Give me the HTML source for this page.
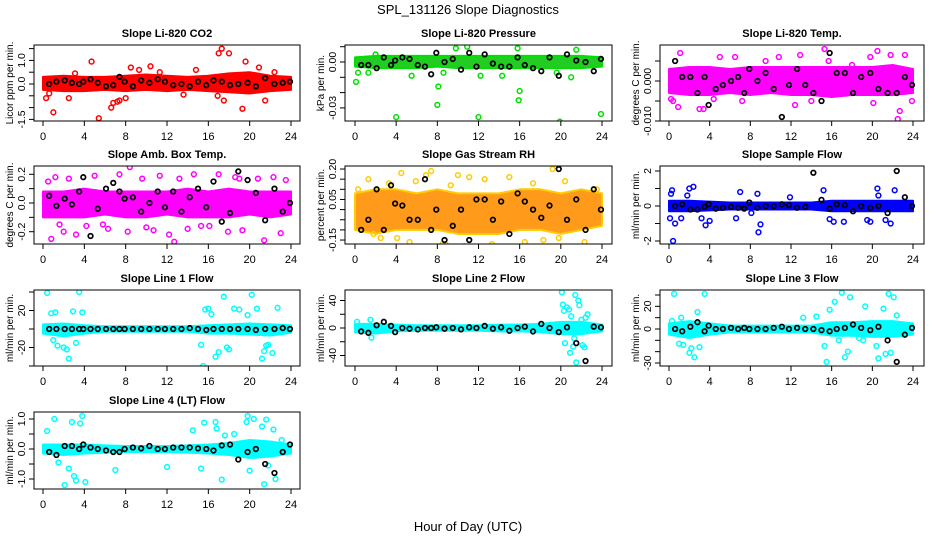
<!DOCTYPE html>
<html><head><meta charset="utf-8"><style>
body{margin:0;background:#fff;}
svg{display:block;font-family:"Liberation Sans",sans-serif;}
</style></head><body>
<svg id="fig" width="936" height="540" viewBox="0 0 936 540">
<text x="468" y="14" text-anchor="middle" font-size="13">SPL_131126  Slope Diagnostics</text>
<text x="468" y="531" text-anchor="middle" font-size="13">Hour of Day (UTC)</text>
</svg>
<script>
const xTicks=[0,4,8,12,16,20,24];
const bandHours=[0,2,4,6,8,10,12,14,16,18,20,22,24];
const blackX=[0.6,1.3,2.1,2.8,3.5,3.9,4.6,5.3,6.1,6.8,7.4,7.9,8.7,9.5,10.3,11.1,11.8,12.6,13.4,14.2,15.0,15.8,16.5,17.3,18.1,18.9,19.8,20.6,21.5,22.4,23.2,23.9];

const co2Black=[0.0,0.1,0.15,0.05,0.0,0.1,0.2,0.05,-0.1,-0.05,0.3,0.1,-0.1,0.15,0.05,0.2,0.1,-0.05,0.0,-0.1,0.1,-0.05,0.15,0.1,-0.05,0.0,0.05,-0.1,0.25,0.0,0.05,0.1];
const co2Hi=[0.3,0.35,0.3,0.3,0.35,0.4,0.35,0.3,0.35,0.45,0.5,0.35,0.3];
const co2Lo=[-0.25,-0.3,-0.3,-0.25,-0.3,-0.25,-0.3,-0.25,-0.3,-0.35,-0.4,-0.3,-0.25];
const co2OutX=[0.3,1.0,4.7,5.4,6.6,6.8,7.2,7.4,8.0,9.3,10.4,14.8,17.0,17.3,17.5,18.0,19.3,19.6,20.9,21.5,0.6,2.5,16.9,8.5,11.3,3.1,13.6,22.4];
const co2OutY=[-0.6,-1.2,0.95,-1.45,-1.0,-0.8,-0.75,-0.7,-0.6,0.6,0.75,0.6,1.3,1.5,-0.7,1.3,-1.05,0.95,0.7,-0.7,-0.4,-0.6,-0.5,0.7,0.5,0.45,-0.45,0.5];

const presBlack=[-0.002,-0.002,-0.004,0.003,-0.002,0.001,0.003,0.002,-0.002,-0.003,-0.008,0.006,0.0,0.002,-0.005,0.006,-0.003,0.005,-0.001,-0.003,-0.003,0.003,-0.002,-0.004,-0.006,0.003,-0.009,0.005,0.001,0.0,-0.006,0.002];
const presHi=[0.003,0.004,0.004,0.004,0.004,0.004,0.004,0.004,0.004,0.004,0.004,0.004,0.003];
const presLo=[-0.003,-0.004,-0.004,-0.004,-0.003,-0.004,-0.004,-0.004,-0.004,-0.004,-0.004,-0.004,-0.003];
const presOutX=[0.1,4.0,8.0,8.1,12.0,16.0,15.9,19.9,23.9,10.9,9.8,15.8,0.3,1.3,5.5,8.6,12.2,14.3,19.6,21.0,2.0,21.5];
const presOutY=[-0.013,-0.036,-0.028,-0.016,-0.036,-0.019,-0.025,-0.039,-0.034,0.010,0.009,0.009,-0.007,-0.007,-0.009,-0.007,-0.009,-0.009,-0.007,-0.010,0.005,0.008];

const tempBlack=[0.005,0.001,0.001,-0.003,0.001,-0.006,-0.002,-0.001,0.0,0.001,-0.003,0.003,0.0,0.002,-0.002,-0.009,-0.001,0.003,-0.001,-0.003,-0.005,0.007,0.002,0.002,-0.003,0.001,0.002,-0.002,-0.003,-0.003,0.001,-0.001];
const tempHi=[0.003,0.0035,0.0035,0.003,0.0035,0.0035,0.0035,0.0035,0.0035,0.0035,0.0035,0.004,0.003];
const tempLo=[-0.003,-0.0035,-0.0035,-0.003,-0.0035,-0.003,-0.0035,-0.0035,-0.004,-0.0035,-0.0035,-0.0035,-0.003];
const tempOutX=[0.2,0.4,1.1,0.9,3.0,3.4,5.0,6.5,7.2,9.5,10.8,12.9,12.4,15.3,15.7,20.5,20.1,21.8,22.5,22.7,23.2,23.9,19.8,18.0,4.4,14.0];
const tempOutY=[-0.0045,-0.005,0.007,-0.0065,-0.007,-0.007,0.006,0.006,-0.005,0.005,0.006,0.0065,-0.006,0.008,0.005,0.0075,-0.0055,0.0065,-0.0095,-0.0075,0.0065,-0.005,0.006,0.004,-0.0045,-0.005];

const ambBlack=[0.05,-0.02,0.03,-0.01,0.08,0.18,-0.23,-0.04,0.1,0.14,0.08,0.03,0.04,-0.06,0.0,0.08,-0.03,0.08,-0.06,0.04,0.1,-0.03,0.15,-0.13,-0.07,0.22,0.16,0.07,-0.12,0.1,-0.06,0.0];
const ambHi=[0.08,0.08,0.1,0.08,0.08,0.08,0.08,0.1,0.08,0.1,0.08,0.08,0.08];
const ambLo=[-0.1,-0.1,-0.1,-0.08,-0.1,-0.1,-0.08,-0.1,-0.1,-0.1,-0.08,-0.1,-0.08];
const ambOutX=[0.5,0.8,1.2,2.0,2.5,3.2,4.2,5.0,6.3,7.4,8.2,8.4,9.6,10.7,11.3,12.2,12.7,13.2,14.0,14.6,16.1,17.0,17.9,18.6,19.3,20.8,21.4,22.3,23.0,23.5,1.6,5.8,10.0,15.3,19.0];
const ambOutY=[0.15,-0.25,0.18,-0.2,0.17,-0.22,-0.16,0.19,-0.18,0.2,-0.2,0.25,0.17,-0.19,0.19,-0.22,-0.27,0.17,-0.18,0.2,-0.16,0.2,-0.2,0.18,-0.19,0.17,-0.26,0.18,-0.21,0.16,-0.15,-0.15,-0.17,-0.16,0.17];

const rhBlack=[-0.1,-0.05,0.1,-0.1,0.12,0.03,0.02,-0.05,-0.05,0.15,-0.1,0.0,-0.15,-0.08,0.0,-0.15,0.05,0.05,-0.05,0.04,-0.12,0.08,0.04,0.0,-0.04,0.02,0.2,-0.05,0.05,-0.1,0.1,0.0];
const rhHi=[0.08,0.1,0.1,0.08,0.1,0.08,0.08,0.08,0.1,0.1,0.08,0.1,0.08];
const rhLo=[-0.1,-0.12,-0.1,-0.1,-0.1,-0.12,-0.12,-0.12,-0.1,-0.1,-0.12,-0.1,-0.08];
const rhOutX=[0.3,1.3,2.5,3.3,4.5,5.3,5.9,6.9,7.4,8.5,9.3,10.0,10.6,11.1,13.3,14.0,15.0,16.5,17.3,18.3,19.2,20.4,21.6,22.3,23.5,1.8,8.8,12.6,19.8,4.1];
const rhOutY=[0.1,0.15,-0.14,0.13,0.18,-0.16,0.14,0.17,0.19,-0.17,0.12,0.17,-0.18,0.16,-0.17,-0.19,0.16,-0.16,0.13,-0.15,0.2,0.14,-0.19,-0.16,0.1,-0.12,-0.17,0.15,-0.14,-0.14];

const sfBlack=[0.0,0.1,-0.2,-0.2,-0.05,0.1,-0.15,-0.1,-0.05,-0.1,-0.15,0.2,-0.1,0.0,0.0,0.1,0.05,-0.1,-0.05,1.9,0.35,-0.15,0.1,0.05,-0.3,0.0,-0.1,0.0,-0.4,2.0,0.5,0.0];
const sfHi=[0.3,0.3,0.25,0.2,0.2,0.2,0.2,0.2,0.3,0.3,0.3,0.3,0.3];
const sfLo=[-0.3,-0.3,-0.25,-0.2,-0.2,-0.2,-0.2,-0.2,-0.3,-0.3,-0.3,-0.3,-0.3];
const sfOutX=[0.1,0.2,0.3,0.4,0.6,1.2,2.0,2.4,3.2,3.6,4.0,6.6,7.0,8.1,8.7,8.8,9.0,11.9,15.2,15.8,16.2,17.2,19.5,19.8,20.5,20.6,21.3,21.8,22.2,1.8];
const sfOutY=[-0.7,0.7,0.9,-2.0,-1.0,-0.7,1.0,1.1,-0.7,-1.1,-0.85,-0.7,0.8,-0.4,0.7,-1.5,-1.05,0.5,0.9,-0.75,-0.9,-0.9,-0.8,-0.9,1.0,0.6,-0.8,-1.0,0.9,0.6];

const l1Black=[0,0,0,0,0,0,0,0,0,0,0,0,0,0,0,0,0,0,0,1,0,-1,0,0,0,0,0,-1,0,0,1,0];
const l1Hi=[5,6,4,3,3,3,3,3,4,5,6,5,4];
const l1Lo=[-5,-8,-5,-3,-3,-3,-3,-3,-5,-5,-6,-7,-4];
const l1OutX=[0.4,0.8,1.0,1.2,1.4,2.0,2.3,2.5,2.9,3.2,3.5,3.8,15.3,15.5,15.7,16.0,16.7,17.0,17.5,17.8,18.5,19.0,19.8,20.2,20.7,21.2,21.4,21.8,22.2,22.7,16.3,18.0,21.6];
const l1OutY=[39,17,-12,18,-18,-20,-22,-32,19,-15,40,18,-17,-40,21,22,-30,-25,35,-20,22,21,15,37,22,-32,-24,-17,-26,23,16,-22,-18];

const l2Black=[-5,-7,4,9,3,-6,0,-1,-2,0,0,1,-1,0,-2,1,0,3,-1,1,-4,0,2,-5,6,0,-6,1,-22,-48,2,1];
const l2Hi=[6,6,5,4,4,4,4,5,5,6,9,9,5];
const l2Lo=[-6,-8,-5,-4,-4,-4,-4,-5,-5,-6,-9,-9,-5];
const l2OutX=[0.2,1.5,1.6,20.1,20.2,20.4,20.6,20.8,20.9,21.0,21.2,21.4,21.5,21.7,21.8,22.1,22.3,22.4,22.6,20.3,21.3,22.0];
const l2OutY=[9,12,-14,52,34,-22,30,27,-36,17,-27,48,-50,40,33,-25,-28,15,20,25,-15,12];

const l3Black=[0,-2,2,6,-2,3,0,0,1,0,1,0,0,0,1,2,0,1,0,0,-1,-2,0,1,4,1,-1,2,-10,-29,-5,1];
const l3Hi=[5,7,5,3,3,3,3,3,6,6,7,7,5];
const l3Lo=[-5,-8,-5,-3,-3,-3,-3,-3,-6,-6,-7,-7,-5];
const l3OutX=[0.3,0.5,1.0,1.2,1.4,2.0,2.2,2.5,2.8,3.0,3.5,13.2,14.5,15.3,15.5,15.8,16.3,16.7,17.0,17.3,17.6,17.8,18.7,19.1,19.3,20.4,20.6,21.1,21.3,21.6,21.8,22.1,22.4];
const l3OutY=[7,31,-13,10,-14,-21,-17,-25,15,-16,31,10,11,-15,-29,17,24,-10,32,-25,-20,28,-8,-10,20,-15,-26,18,-22,31,-21,28,12];

const l4Black=[-0.1,-0.2,0.1,0.1,0.0,0.15,0.05,0.0,-0.05,-0.1,-0.1,0.0,0.05,0.02,0.1,0.0,0.0,0.05,0.05,0.05,0.02,0.0,-0.05,0.12,0.15,-0.35,-0.1,0.0,-0.5,-0.8,-0.1,0.15];
const l4Hi=[0.15,0.15,0.15,0.12,0.1,0.1,0.1,0.12,0.15,0.2,0.3,0.25,0.15];
const l4Lo=[-0.15,-0.2,-0.15,-0.12,-0.1,-0.1,-0.1,-0.12,-0.15,-0.2,-0.3,-0.25,-0.15];
const l4OutX=[0.4,1.1,1.5,2.1,2.5,2.8,3.0,3.2,3.6,3.8,4.1,7.0,12.0,14.5,15.3,15.6,16.7,16.8,17.3,17.6,18.5,19.7,19.8,20.0,20.4,21.2,21.4,21.6,21.8,22.3,22.5,23.1];
const l4OutY=[0.6,1.0,-0.45,-1.2,-0.65,0.9,-0.9,-1.05,0.85,1.1,-1.1,-0.7,-0.6,0.62,-0.65,0.88,0.9,0.68,-1.02,0.45,0.5,0.9,1.1,-0.72,1.0,0.75,-1.17,0.98,-0.55,0.65,-1.0,0.3];

const panels=[
 {name:'co2',title:'Slope Li-820 CO2',ylab:'Licor ppm per min.',col:0,row:0,y0:84,ys:23.6,ticks:[-1.5,-1,-0.5,0,0.5,1,1.5],labs:[[-1.5,'-1.5'],[0,'0.0'],[1,'1.0']],color:'#ff0000',fill:'#ff0000',black:co2Black,hi:co2Hi,lo:co2Lo,ox:co2OutX,oy:co2OutY},
 {name:'pressure',title:'Slope Li-820 Pressure',ylab:'kPa per min.',col:1,row:0,y0:62,ys:1530,ticks:[-0.03,-0.02,-0.01,0,0.01],labs:[[-0.03,'-0.03'],[0,'0.00']],color:'#00e000',fill:'#22cc22',black:presBlack,hi:presHi,lo:presLo,ox:presOutX,oy:presOutY},
 {name:'temp',title:'Slope Li-820 Temp.',ylab:'degrees C per min.',col:2,row:0,y0:81,ys:4000,ticks:[-0.01,-0.005,0,0.005],labs:[[-0.01,'-0.010'],[0,'0.000']],color:'#ff00ff',fill:'#ff00ff',black:tempBlack,hi:tempHi,lo:tempLo,ox:tempOutX,oy:tempOutY},
 {name:'amb-box-temp',title:'Slope Amb. Box Temp.',ylab:'degrees C per min.',col:0,row:1,y0:203,ys:143.5,ticks:[-0.2,-0.1,0,0.1,0.2],labs:[[-0.2,'-0.2'],[0,'0.0'],[0.2,'0.2']],color:'#ff00ff',fill:'#ff00ff',black:ambBlack,hi:ambHi,lo:ambLo,ox:ambOutX,oy:ambOutY},
 {name:'gas-stream-rh',title:'Slope Gas Stream RH',ylab:'percent per min.',col:1,row:1,y0:209.6,ys:202.9,ticks:[-0.15,-0.1,-0.05,0,0.05,0.1,0.15,0.2],labs:[[-0.15,'-0.15'],[0.05,'0.05'],[0.2,'0.20']],color:'#ffcc00',fill:'#ff9a1a',black:rhBlack,hi:rhHi,lo:rhLo,ox:rhOutX,oy:rhOutY},
 {name:'sample-flow',title:'Slope Sample Flow',ylab:'ml/min per min.',col:2,row:1,y0:206,ys:17.5,ticks:[-2,-1,0,1,2],labs:[[-2,'-2'],[0,'0'],[2,'2']],color:'#0000ff',fill:'#0000ff',black:sfBlack,hi:sfHi,lo:sfLo,ox:sfOutX,oy:sfOutY},
 {name:'line1-flow',title:'Slope Line 1 Flow',ylab:'ml/min per min.',col:0,row:2,y0:329,ys:0.925,ticks:[-40,-20,0,20,40],labs:[[-20,'-20'],[20,'20']],color:'#00ffff',fill:'#00ffff',black:l1Black,hi:l1Hi,lo:l1Lo,ox:l1OutX,oy:l1OutY},
 {name:'line2-flow',title:'Slope Line 2 Flow',ylab:'ml/min per min.',col:1,row:2,y0:328,ys:0.6875,ticks:[-40,-20,0,20,40],labs:[[-40,'-40'],[0,'0'],[40,'40']],color:'#00ffff',fill:'#00ffff',black:l2Black,hi:l2Hi,lo:l2Lo,ox:l2OutX,oy:l2OutY},
 {name:'line3-flow',title:'Slope Line 3 Flow',ylab:'ml/min per min.',col:2,row:2,y0:329,ys:1.133,ticks:[-30,-20,-10,0,10,20,30],labs:[[-30,'-30'],[0,'0'],[20,'20']],color:'#00ffff',fill:'#00ffff',black:l3Black,hi:l3Hi,lo:l3Lo,ox:l3OutX,oy:l3OutY},
 {name:'line4-lt-flow',title:'Slope Line 4 (LT) Flow',ylab:'ml/min per min.',col:0,row:3,y0:449,ys:30,ticks:[-1,-0.5,0,0.5,1],labs:[[-1,'-1.0'],[0,'0.0'],[1,'1.0']],color:'#00ffff',fill:'#00ffff',black:l4Black,hi:l4Hi,lo:l4Lo,ox:l4OutX,oy:l4OutY}
];
const cols=[{L:34,R:300,x0:43,x24:291},{L:345,R:612,x0:355,x24:602},{L:660,R:924,x0:669,x24:913}];
const rows=[{T:45,B:121},{T:166,B:244},{T:290,B:366},{T:412,B:489}];
const NS='http://www.w3.org/2000/svg';
const svg=document.getElementById('fig');
function mk(tag,attrs,parent){const e=document.createElementNS(NS,tag);for(const k in attrs)e.setAttribute(k,attrs[k]);parent.appendChild(e);return e;}

panels.forEach(p=>{
 const c=cols[p.col],r=rows[p.row];
 const X=v=>c.x0+(c.x24-c.x0)*v/24;
 const Y=v=>p.y0-v*p.ys;
 const g=mk('g',{},svg);
 
 
 const clip='clip-'+p.name;
 const cp=mk('clipPath',{id:clip},g);
 mk('rect',{x:c.L,y:r.T,width:c.R-c.L,height:r.B-r.T},cp);
 const pg=mk('g',{'clip-path':'url(#'+clip+')'},g);
 let d='';
 bandHours.forEach((h,i)=>{d+=(i?'L':'M')+X(h)+','+Y(p.hi[i]);});
 for(let i=bandHours.length-1;i>=0;i--)d+='L'+X(bandHours[i])+','+Y(p.lo[i]);
 const band=mk('path',{d:d+'Z',fill:p.fill,stroke:p.color,'stroke-width':2,'stroke-linejoin':'round'},pg);
 
 
 p.ox.forEach((x,i)=>{
  const pt=mk('circle',{cx:X(x),cy:Y(p.oy[i]),r:2.4,fill:'none',stroke:p.color,'stroke-width':1.5},pg);
  
  
 });
 blackX.forEach((x,i)=>{
  const pt=mk('circle',{cx:X(x),cy:Y(p.black[i]),r:2.3,fill:'none',stroke:'#000','stroke-width':1.7},pg);
  
  
 });
 const box=mk('rect',{x:c.L,y:r.T,width:c.R-c.L,height:r.B-r.T,fill:'none',stroke:'#000','stroke-width':1},g);
 
 
 const t=mk('text',{x:(c.L+c.R)/2,y:r.T-8,'text-anchor':'middle','font-size':11,'font-weight':'bold'},g);
 t.textContent=p.title;
 
 
 const xa=mk('g',{},g);
 
 
 mk('line',{x1:X(0),x2:X(24),y1:r.B,y2:r.B,stroke:'#000'},xa);
 xTicks.forEach(v=>{
  mk('line',{x1:X(v),x2:X(v),y1:r.B,y2:r.B+5,stroke:'#000'},xa);
  const tl=mk('text',{x:X(v),y:r.B+19,'text-anchor':'middle','font-size':11},xa);
  tl.textContent=v;
  
  
 });
 const ya=mk('g',{},g);
 
 
 const tmin=Math.min(...p.ticks),tmax=Math.max(...p.ticks);
 mk('line',{x1:c.L,x2:c.L,y1:Y(tmin),y2:Y(tmax),stroke:'#000'},ya);
 p.ticks.forEach(v=>mk('line',{x1:c.L-5,x2:c.L,y1:Y(v),y2:Y(v),stroke:'#000'},ya));
 p.labs.forEach(([v,s])=>{
  const tl=mk('text',{x:0,y:0,'text-anchor':'middle','font-size':10.5,transform:`translate(${c.L-9},${Y(v)}) rotate(-90)`},ya);
  tl.textContent=s;
  
  
 });
 const yl=mk('text',{x:0,y:0,'text-anchor':'middle','font-size':10,transform:`translate(${c.L-21},${(r.T+r.B)/2}) rotate(-90)`},g);
 yl.textContent=p.ylab;
 
 
});
</script>
</body></html>
